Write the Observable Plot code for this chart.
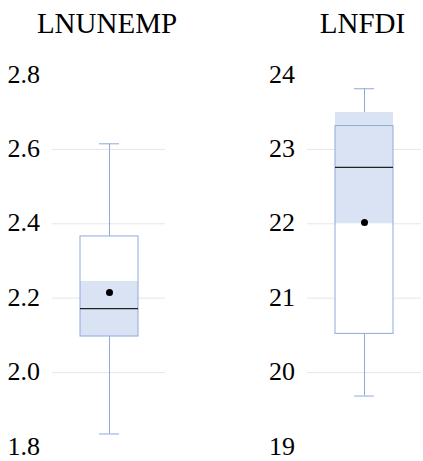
<!DOCTYPE html>
<html>
<head>
<meta charset="utf-8">
<script src="https://cdn.jsdelivr.net/npm/d3@7"></script>
<script src="https://cdn.jsdelivr.net/npm/@observablehq/plot@0.6"></script>
<style>
  html, body { margin: 0; padding: 0; background: #fff; }
  #wrap { position: relative; display: flex; width: 423px; height: 461px; }
  .title { position: absolute; top: 9px; width: 200px; line-height: 29px; font-size: 29px; font-family: "Liberation Serif"; color: #000; text-align: center; white-space: nowrap; }
  .tick { position: absolute; line-height: 26px; font-size: 26px; font-family: "Liberation Serif"; color: #000; text-align: right; white-space: nowrap; }
</style>
</head>
<body>
<div id="wrap"></div>
<script>
const categories = ["LNUNEMP", "LNFDI"];
const lows    = [1.835, 19.685];
const q1s     = [2.097, 20.52];
const medians = [2.172, 22.758];
const q3s     = [2.366, 23.313];
const highs   = [2.615, 23.815];
const means   = [2.215, 22.017];
const ciLows  = [2.097, 22.0];
const ciHighs = [2.245, 23.497];
const yDomains = [[1.8, 2.8], [19, 24]];
const yTicks = [[1.8, 2.0, 2.2, 2.4, 2.6, 2.8], [19, 20, 21, 22, 23, 24]];
const gridTicks = [[2.0, 2.2, 2.4, 2.6], [20, 21, 22, 23]];
const tickFormats = [d3.format(".1f"), d3.format("d")];

const boxStroke = "#8eaadb";
const ciFill = "#dae3f3";
const serif = "Liberation Serif";
const layouts = [
  {left: 0, width: 211, marginLeft: 52, marginRight: 46},
  {left: 211, width: 212, marginLeft: 96, marginRight: 2}
];

const wrap = document.getElementById("wrap");
categories.forEach((name, i) => {
  const L = layouts[i];
  const d = [{name, low: lows[i], q1: q1s[i], median: medians[i], q3: q3s[i], high: highs[i], mean: means[i], ciLow: ciLows[i], ciHigh: ciHighs[i]}];
  const chart = Plot.plot({
    width: L.width,
    height: 461,
    marginLeft: L.marginLeft,
    marginRight: L.marginRight,
    marginTop: 74.5,
    marginBottom: 14.5,
    style: {fontFamily: serif, fontSize: "26px"},
    x: {type: "band", domain: [name], paddingInner: 0.322, paddingOuter: 0.322, axis: null},
    y: {domain: yDomains[i], axis: null},
    marks: [
      Plot.ruleY(gridTicks[i], {stroke: "#e6e6e6", strokeWidth: 1}),
      Plot.ruleX(d, {x: "name", y1: "low", y2: "q1", stroke: boxStroke, strokeWidth: 1}),
      Plot.ruleX(d, {x: "name", y1: "q3", y2: "high", stroke: boxStroke, strokeWidth: 1}),
      Plot.tickY(d, {x: "name", y: "low", stroke: boxStroke, strokeWidth: 1, insetLeft: 19, insetRight: 19}),
      Plot.tickY(d, {x: "name", y: "high", stroke: boxStroke, strokeWidth: 1, insetLeft: 19, insetRight: 19}),
      Plot.barY(d, {x: "name", y1: "q1", y2: "q3", fill: "#fff"}),
      Plot.barY(d, {x: "name", y1: "ciLow", y2: "ciHigh", fill: ciFill}),
      Plot.barY(d, {x: "name", y1: "q1", y2: "q3", fill: "none", stroke: boxStroke, strokeWidth: 1}),
      Plot.tickY(d, {x: "name", y: "median", stroke: "#222", strokeWidth: 1.3}),
      Plot.dot(d, {x: "name", y: "mean", r: 3.5, fill: "#000", stroke: "none"})
    ]
  });
  wrap.appendChild(chart);

  // y tick labels, placed with the chart's own y scale
  const y = chart.scale("y");
  yTicks[i].forEach(v => {
    const lab = document.createElement("div");
    lab.className = "tick";
    lab.textContent = tickFormats[i](v);
    lab.style.left = L.left + "px";
    lab.style.width = (L.marginLeft - 12) + "px";
    lab.style.top = (y.apply(v) - 13) + "px";
    wrap.appendChild(lab);
  });

  // panel title, centred over the plot frame
  const title = document.createElement("div");
  title.className = "title";
  title.textContent = name;
  const cx = L.left + L.marginLeft + (L.width - L.marginLeft - L.marginRight) / 2 - 1.5;
  title.style.left = (cx - 100) + "px";
  wrap.appendChild(title);
});
</script>
</body>
</html>
